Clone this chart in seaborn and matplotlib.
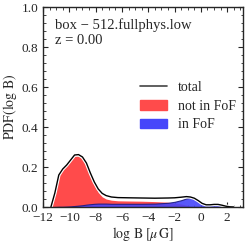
import numpy as np
import seaborn as sns
import matplotlib.pyplot as plt
import matplotlib.patheffects as pe
from matplotlib.patches import Patch
from matplotlib.lines import Line2D
from matplotlib.ticker import AutoMinorLocator

# values (log B in muG)
log_b = [-11.4, -11.1, -10.8, -10.5, -10.2, -9.9, -9.6, -9.3, -9.0, -8.7, -8.4, -8.1,
         -7.8, -7.5, -7.2, -6.8, -6.3, -5.5, -4.5, -3.5, -2.5, -2.0, -1.5, -1.1,
         -0.8, -0.5, -0.2, 0.1, 0.4, 0.7, 1.0, 1.3, 1.6, 1.9, 2.2, 2.5]
pdf_total = [0, 0.07, 0.16, 0.19, 0.21, 0.235, 0.26, 0.262, 0.25, 0.22, 0.17, 0.125,
             0.09, 0.068, 0.057, 0.05, 0.047, 0.046, 0.045, 0.044, 0.045, 0.046, 0.049, 0.052,
             0.05, 0.044, 0.032, 0.018, 0.011, 0.011, 0.013, 0.013, 0.009, 0.004, 0.001, 0]
pdf_not_fof = [0, 0.07, 0.159, 0.189, 0.208, 0.232, 0.255, 0.255, 0.241, 0.208, 0.156, 0.109,
               0.073, 0.051, 0.04, 0.034, 0.031, 0.03, 0.029, 0.027, 0.024, 0.02, 0.015, 0.009,
               0.004, 0.002, 0.002, 0.002, 0.002, 0.002, 0.002, 0.001, 0.001, 0, 0, 0]
pdf_in_fof = [0, 0, 0.001, 0.001, 0.002, 0.003, 0.005, 0.007, 0.009, 0.012, 0.014, 0.016,
              0.017, 0.017, 0.017, 0.016, 0.016, 0.016, 0.016, 0.017, 0.021, 0.026, 0.034, 0.043,
              0.046, 0.042, 0.03, 0.016, 0.009, 0.009, 0.011, 0.012, 0.008, 0.004, 0.001, 0]

sns.set_style("ticks")
plt.rcParams['font.family'] = ['Liberation Serif', 'DejaVu Serif']
plt.rcParams['mathtext.fontset'] = 'stix'
plt.rcParams['font.size'] = 10

red = '#ff4b4b'
blue = '#4646fa'

fig = plt.figure(figsize=(2.5, 2.5), dpi=100)
ax = fig.add_axes([0.172, 0.172, 0.8, 0.8])

ax.fill_between(log_b, 0, pdf_not_fof, color=red, lw=0)
ax.fill_between(log_b, 0, pdf_in_fof, color=blue, alpha=0.9, lw=0.8, edgecolor='#1a1a80')
sns.lineplot(x=log_b, y=pdf_total, ax=ax, color='black', lw=1.0,
             path_effects=[pe.Stroke(linewidth=2.6, foreground='white'), pe.Normal()])

ax.set_xlim(-12, 3.2)
ax.set_ylim(0, 1)
ax.set_xticks([-12, -10, -8, -6, -4, -2, 0, 2])
ax.set_yticks([0, 0.2, 0.4, 0.6, 0.8, 1.0])
ax.xaxis.set_minor_locator(AutoMinorLocator(4))
ax.yaxis.set_minor_locator(AutoMinorLocator(5))
ax.tick_params(which='both', direction='in', top=True, right=True, labelsize=9.5)
ax.tick_params(which='major', length=3.5, width=0.8)
ax.tick_params(which='minor', length=1.8, width=0.6)
for s in ax.spines.values():
    s.set_linewidth(1.0)

ax.set_xlabel(r'$\log\,\mathrm{B}\;[\mu\,\mathrm{G}]$', fontsize=10, labelpad=1)
ax.set_ylabel(r'$\mathrm{PDF}(\log\,\mathrm{B})$', fontsize=10, labelpad=2)

ax.text(0.06, 0.91, 'box \u2212 512.fullphys.low', transform=ax.transAxes,
        fontsize=10.5, va='center')
ax.text(0.06, 0.83, 'z = 0.00', transform=ax.transAxes, fontsize=10.5, va='center')

handles = [Line2D([0], [0], color='#444444', lw=1.2),
           Patch(color=red), Patch(color=blue)]
ax.legend(handles, ['total', 'not in FoF', 'in FoF'], loc='center left',
          bbox_to_anchor=(0.485, 0.505), borderaxespad=0, borderpad=0,
          frameon=False, fontsize=10,
          handlelength=1.95, handletextpad=0.8, labelspacing=0.42)

fig.savefig('out.png', dpi=100)
